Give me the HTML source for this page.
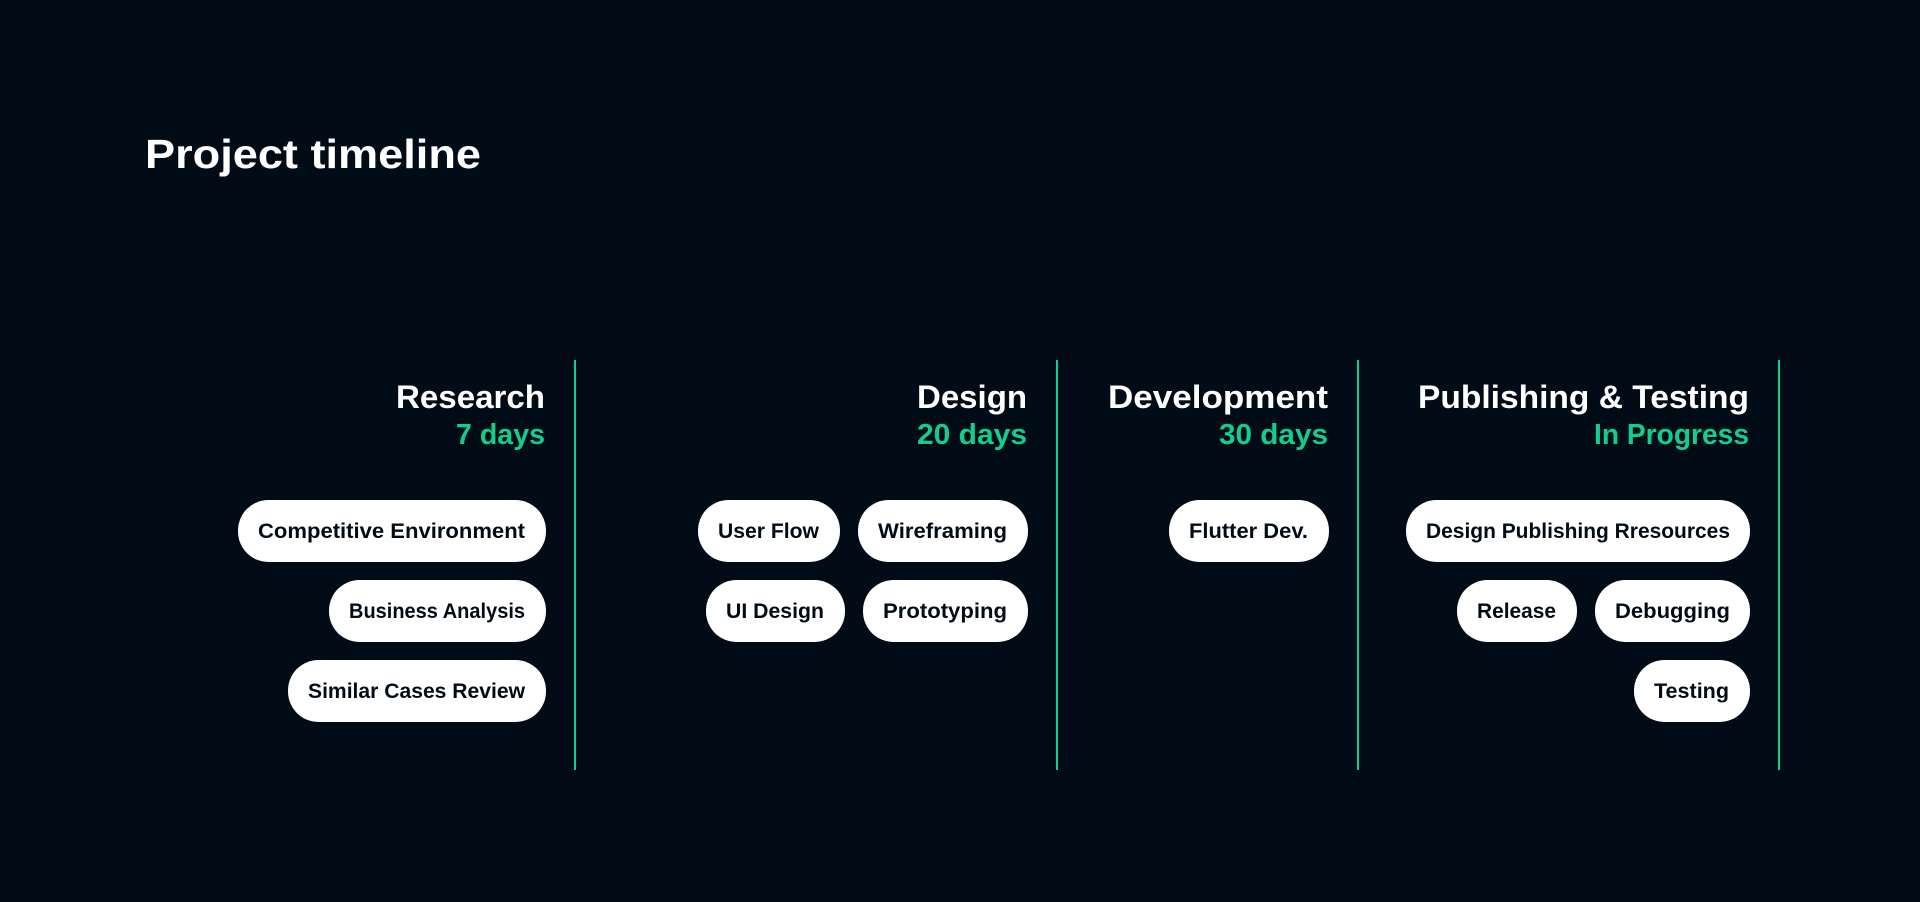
<!DOCTYPE html>
<html lang="en">
<head>
<meta charset="utf-8">
<title>Project timeline</title>
<style>
html,body{margin:0;padding:0;background:#020c16;width:1920px;height:902px;overflow:hidden}
svg{display:block}
text{font-family:"Liberation Sans",sans-serif;font-weight:700}
.t{fill:#fff;font-size:41px}
.h{fill:#fff;font-size:32px}
.s{fill:#10cf8e;font-size:29px}
.p{fill:#020c16;font-size:21px}
.b{fill:#fff}
.l{fill:#10cf8e}
</style>
</head>
<body>
<svg width="1920" height="902" viewBox="0 0 1920 902" xmlns="http://www.w3.org/2000/svg">
<rect width="1920" height="902" fill="#020c16"/>
<text class="t" x="145" y="168" textLength="336" lengthAdjust="spacingAndGlyphs">Project timeline</text>

<rect class="l" x="574" y="360" width="2" height="410"/>
<rect class="l" x="1056" y="360" width="2" height="410"/>
<rect class="l" x="1357" y="360" width="2" height="410"/>
<rect class="l" x="1778" y="360" width="2" height="410"/>

<text class="h" x="396" y="408" textLength="149" lengthAdjust="spacingAndGlyphs">Research</text>
<text class="s" x="456" y="444" textLength="89" lengthAdjust="spacingAndGlyphs">7 days</text>
<text class="h" x="917" y="408" textLength="110" lengthAdjust="spacingAndGlyphs">Design</text>
<text class="s" x="917" y="444" textLength="110" lengthAdjust="spacingAndGlyphs">20 days</text>
<text class="h" x="1108" y="408" textLength="220" lengthAdjust="spacingAndGlyphs">Development</text>
<text class="s" x="1219" y="444" textLength="109" lengthAdjust="spacingAndGlyphs">30 days</text>
<text class="h" x="1418" y="408" textLength="331" lengthAdjust="spacingAndGlyphs">Publishing &amp; Testing</text>
<text class="s" x="1594" y="444" textLength="155" lengthAdjust="spacingAndGlyphs">In Progress</text>

<rect class="b" x="238" y="500" width="308" height="62" rx="30.5"/>
<rect class="b" x="329" y="580" width="217" height="62" rx="30.5"/>
<rect class="b" x="288" y="660" width="258" height="62" rx="30.5"/>
<text class="p" x="258" y="538" textLength="267" lengthAdjust="spacingAndGlyphs">Competitive Environment</text>
<text class="p" x="349" y="618" textLength="176" lengthAdjust="spacingAndGlyphs">Business Analysis</text>
<text class="p" x="308" y="698" textLength="217" lengthAdjust="spacingAndGlyphs">Similar Cases Review</text>

<rect class="b" x="698" y="500" width="142" height="62" rx="30.5"/>
<rect class="b" x="858" y="500" width="170" height="62" rx="30.5"/>
<rect class="b" x="706" y="580" width="139" height="62" rx="30.5"/>
<rect class="b" x="863" y="580" width="165" height="62" rx="30.5"/>
<text class="p" x="718" y="538" textLength="101" lengthAdjust="spacingAndGlyphs">User Flow</text>
<text class="p" x="878" y="538" textLength="129" lengthAdjust="spacingAndGlyphs">Wireframing</text>
<text class="p" x="726" y="618" textLength="98" lengthAdjust="spacingAndGlyphs">UI Design</text>
<text class="p" x="883" y="618" textLength="124" lengthAdjust="spacingAndGlyphs">Prototyping</text>

<rect class="b" x="1169" y="500" width="160" height="62" rx="30.5"/>
<text class="p" x="1189" y="538" textLength="119" lengthAdjust="spacingAndGlyphs">Flutter Dev.</text>

<rect class="b" x="1406" y="500" width="344" height="62" rx="30.5"/>
<rect class="b" x="1457" y="580" width="120" height="62" rx="30.5"/>
<rect class="b" x="1595" y="580" width="155" height="62" rx="30.5"/>
<rect class="b" x="1634" y="660" width="116" height="62" rx="30.5"/>
<text class="p" x="1426" y="538" textLength="304" lengthAdjust="spacingAndGlyphs">Design Publishing Rresources</text>
<text class="p" x="1477" y="618" textLength="79" lengthAdjust="spacingAndGlyphs">Release</text>
<text class="p" x="1615" y="618" textLength="115" lengthAdjust="spacingAndGlyphs">Debugging</text>
<text class="p" x="1654" y="698" textLength="75" lengthAdjust="spacingAndGlyphs">Testing</text>
</svg>
</body>
</html>
